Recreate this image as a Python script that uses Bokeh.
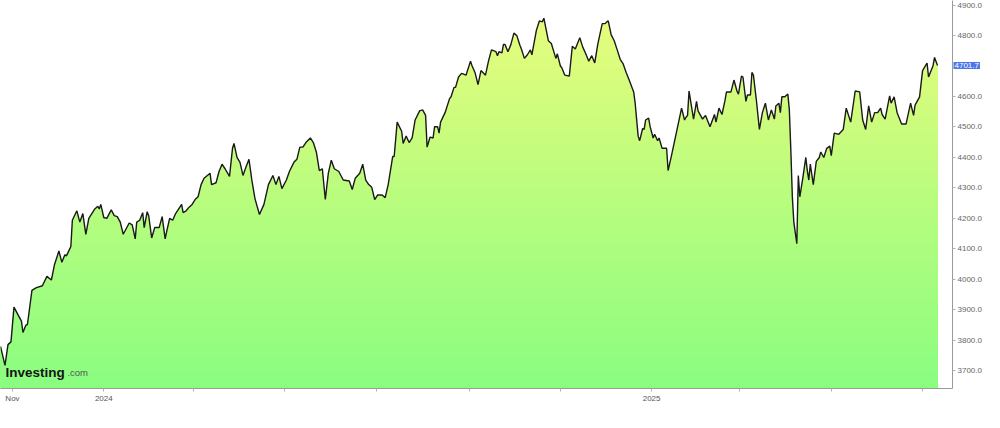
import numpy as np
import pandas as pd
from bokeh.plotting import figure
from bokeh.models import Range1d, FixedTicker, NumeralTickFormatter, Label
from bokeh.embed import file_html
from bokeh.resources import INLINE

# ---- data ----
start_date = "2023-10-24"
day_offsets = [
    0, 3, 5, 7, 9, 12, 14, 15, 17, 18, 21, 24, 28, 31, 34, 36, 39, 41, 43, 44,
    45, 47, 48, 51, 53, 55, 57, 59, 63, 65, 66, 67, 69, 71, 74, 76, 78, 80, 82, 86,
    88, 90, 91, 93, 95, 96, 98, 99, 101, 103, 106, 108, 110, 111, 113, 115, 117, 121, 122, 124,
    126, 128, 130, 132, 134, 136, 140, 141, 144, 146, 148, 150, 153, 155, 156, 158, 160, 162, 164, 166,
    168, 170, 173, 176, 179, 182, 184, 186, 188, 191, 193, 196, 198, 200, 202, 204, 207, 209, 211, 213,
    215, 217, 219, 221, 223, 226, 229, 233, 235, 237, 240, 242, 244, 246, 248, 250, 252, 255, 257, 259,
    262, 263, 265, 268, 269, 271, 273, 275, 277, 280, 282, 284, 285, 287, 289, 290, 292, 293, 294, 297,
    300, 301, 303, 304, 306, 308, 311, 314, 315, 317, 319, 321, 324, 326, 328, 331, 332, 333, 335, 336,
    337, 339, 341, 343, 345, 347, 348, 350, 352, 354, 355, 358, 360, 362, 363, 366, 368, 371, 372, 374,
    375, 377, 380, 382, 384, 387, 389, 391, 393, 395, 397, 399, 402, 404, 405, 406, 408, 410, 412, 414,
    416, 418, 420, 423, 424, 426, 427, 429, 430, 431, 433, 434, 436, 437, 439, 440, 442, 445, 446, 448,
    450, 452, 455, 457, 458, 459, 460, 462, 463, 465, 466, 469, 471, 474, 477, 478, 480, 482, 484, 485,
    488, 490, 492, 493, 495, 496, 498, 499, 501, 502, 503, 505, 507, 509, 511, 513, 515, 517, 518, 520,
    521, 522, 524, 526, 527, 528, 529, 530, 532, 533, 534, 536, 538, 539, 540, 541, 543, 545, 547, 548,
    550, 552, 554, 555, 557, 560, 563, 565, 568, 571, 574, 576, 578, 580, 582, 584, 586, 588, 589, 591,
    594, 595, 597, 599, 602, 605, 608, 610, 611, 614, 616, 619, 620, 623, 624, 626,
]
closes = [
    3780, 3718, 3786, 3795, 3909, 3881, 3863, 3826, 3850, 3852, 3964, 3973, 3979, 4010, 3998, 4047, 4093, 4056, 4081, 4077,
    4087, 4108, 4194, 4225, 4188, 4216, 4148, 4200, 4231, 4240, 4231, 4246, 4203, 4200, 4228, 4209, 4206, 4188, 4148, 4185,
    4179, 4133, 4188, 4194, 4219, 4170, 4222, 4209, 4136, 4170, 4170, 4206, 4133, 4157, 4200, 4194, 4216, 4246, 4219, 4225,
    4237, 4246, 4262, 4271, 4311, 4332, 4348, 4311, 4317, 4354, 4378, 4363, 4338, 4430, 4446, 4400, 4384, 4341, 4369, 4394,
    4323, 4265, 4213, 4246, 4311, 4341, 4311, 4338, 4298, 4326, 4354, 4384, 4394, 4434, 4434, 4449, 4464, 4449, 4418, 4357,
    4363, 4262, 4348, 4391, 4363, 4354, 4326, 4323, 4295, 4332, 4348, 4378, 4326, 4311, 4302, 4262, 4277, 4277, 4268, 4311,
    4403, 4403, 4516, 4486, 4446, 4470, 4449, 4464, 4523, 4553, 4556, 4538, 4434, 4467, 4464, 4501, 4501, 4480, 4516, 4547,
    4593, 4599, 4630, 4630, 4664, 4676, 4670, 4716, 4701, 4679, 4639, 4685, 4670, 4716, 4753, 4747, 4734, 4747, 4743, 4771,
    4771, 4747, 4771, 4808, 4799, 4768, 4756, 4725, 4737, 4753, 4737, 4817, 4848, 4845, 4857, 4783, 4774, 4725, 4740, 4701,
    4694, 4670, 4667, 4765, 4756, 4793, 4762, 4740, 4716, 4734, 4710, 4771, 4839, 4839, 4845, 4848, 4802, 4783, 4753, 4722,
    4707, 4679, 4654, 4615, 4578, 4470, 4455, 4495, 4492, 4523, 4529, 4501, 4464, 4476, 4455, 4464, 4430, 4430, 4357, 4400,
    4446, 4492, 4562, 4523, 4532, 4538, 4618, 4556, 4526, 4584, 4553, 4526, 4538, 4501, 4541, 4516, 4562, 4541, 4587, 4615,
    4615, 4654, 4618, 4608, 4667, 4664, 4584, 4605, 4605, 4679, 4670, 4587, 4492, 4547, 4578, 4523, 4556, 4526, 4569, 4578,
    4547, 4599, 4599, 4608, 4556, 4424, 4271, 4188, 4117, 4341, 4271, 4332, 4400, 4357, 4326, 4378, 4311, 4387, 4400, 4418,
    4400, 4430, 4437, 4406, 4480, 4476, 4492, 4562, 4516, 4618, 4615, 4523, 4492, 4569, 4516, 4547, 4547, 4562, 4541, 4526,
    4602, 4578, 4599, 4547, 4510, 4510, 4578, 4538, 4572, 4599, 4685, 4710, 4664, 4701, 4728, 4701.7,
]
y_ticks = [3700, 3800, 3900, 4000, 4100, 4200, 4300, 4400, 4500, 4600, 4800, 4900]
x_tick_dates = ["2023-11-01", "2024-01-01", "2024-03-01", "2024-05-01", "2024-07-01", "2024-09-01",
                "2024-11-01", "2025-01-01", "2025-03-01", "2025-05-01", "2025-07-01"]
x_tick_labels = ["Nov", "2024", "", "", "", "", "", "2025", "", "", ""]
last_value_text = "4701.7"

# ---- build ----
t0 = pd.Timestamp(start_date)
dates = (t0 + pd.to_timedelta(day_offsets, unit="D")).values
vals = np.array(closes, dtype=float)

def ms(ts):
    return pd.Timestamp(ts).value / 1e6

x_start = ms(t0)
x_end = ms(t0 + pd.Timedelta(days=636))
y_lo, y_hi = 3642, 4915

p = figure(width=984, height=412, x_axis_type="datetime", y_axis_location="right",
           output_backend="svg", toolbar_location=None,
           x_range=Range1d(x_start, x_end), y_range=Range1d(y_lo, y_hi),
           min_border_left=0, min_border_top=0, min_border_right=0, min_border_bottom=0)
p.outline_line_color = None
p.grid.visible = False
p.background_fill_color = "white"
p.border_fill_color = "white"

# gradient fill under the line (stacked bands, drawn top-down)
n_bands = 70
edges = np.linspace(y_lo, y_hi, n_bands + 1)
c_bot = np.array([136, 253, 128])
c_top = np.array([234, 252, 124])
for k in range(n_bands, 0, -1):
    t = (edges[k] - y_lo) / (y_hi - y_lo)
    r, g, b = (c_bot + (c_top - c_bot) * t).round().astype(int)
    p.varea(x=dates, y1=y_lo, y2=np.minimum(vals, edges[k]),
            fill_color=f"#{r:02x}{g:02x}{b:02x}", fill_alpha=1.0)

p.line(dates, vals, line_color="#1a1a1a", line_width=1.4)

# axes
font = "Liberation Sans"
ax = p.xaxis[0]
tick_ms = [ms(d) for d in x_tick_dates]
ax.ticker = FixedTicker(ticks=tick_ms)
ax.major_label_overrides = {tv: lab for tv, lab in zip(tick_ms, x_tick_labels)}
ax.minor_tick_line_color = None
ax.major_tick_in = 0
ax.major_tick_out = 3
ax.axis_line_color = "#9a9a9a"
ax.major_tick_line_color = "#b0b0b0"
ax.major_label_text_font = font
ax.major_label_text_font_size = "8px"
ax.major_label_text_color = "#555555"
ax.major_label_standoff = 2

ay = p.yaxis[0]
ay.ticker = FixedTicker(ticks=y_ticks)
ay.formatter = NumeralTickFormatter(format="0.0")
ay.minor_tick_line_color = None
ay.major_tick_in = 0
ay.major_tick_out = 3
ay.axis_line_color = "#9a9a9a"
ay.major_tick_line_color = "#b0b0b0"
ay.major_label_text_font = font
ay.major_label_text_font_size = "8px"
ay.major_label_text_color = "#666666"
ay.major_label_standoff = 2

# last value tag (in a side panel so it is not clipped to the frame)
p.add_layout(Label(x=x_end, y=vals[-1], x_offset=1, text=last_value_text,
                   text_baseline="middle", text_align="left", text_color="white",
                   text_font=font, text_font_size="8px", padding=1,
                   background_fill_color="#4a78e8"), "below")

# logo
logo_x = ms(t0 + pd.Timedelta(days=3.3))
p.add_layout(Label(x=logo_x, y=3695, text="Investing", text_font=font,
                   text_font_size="13.5px", text_font_style="bold", text_color="#141414",
                   text_baseline="alphabetic"))
p.add_layout(Label(x=logo_x, y=3695, x_offset=62, text=".com", text_font=font,
                   text_font_size="9.5px", text_color="#555555",
                   text_baseline="alphabetic"))

open("out.html", "w").write(file_html(p, INLINE))
